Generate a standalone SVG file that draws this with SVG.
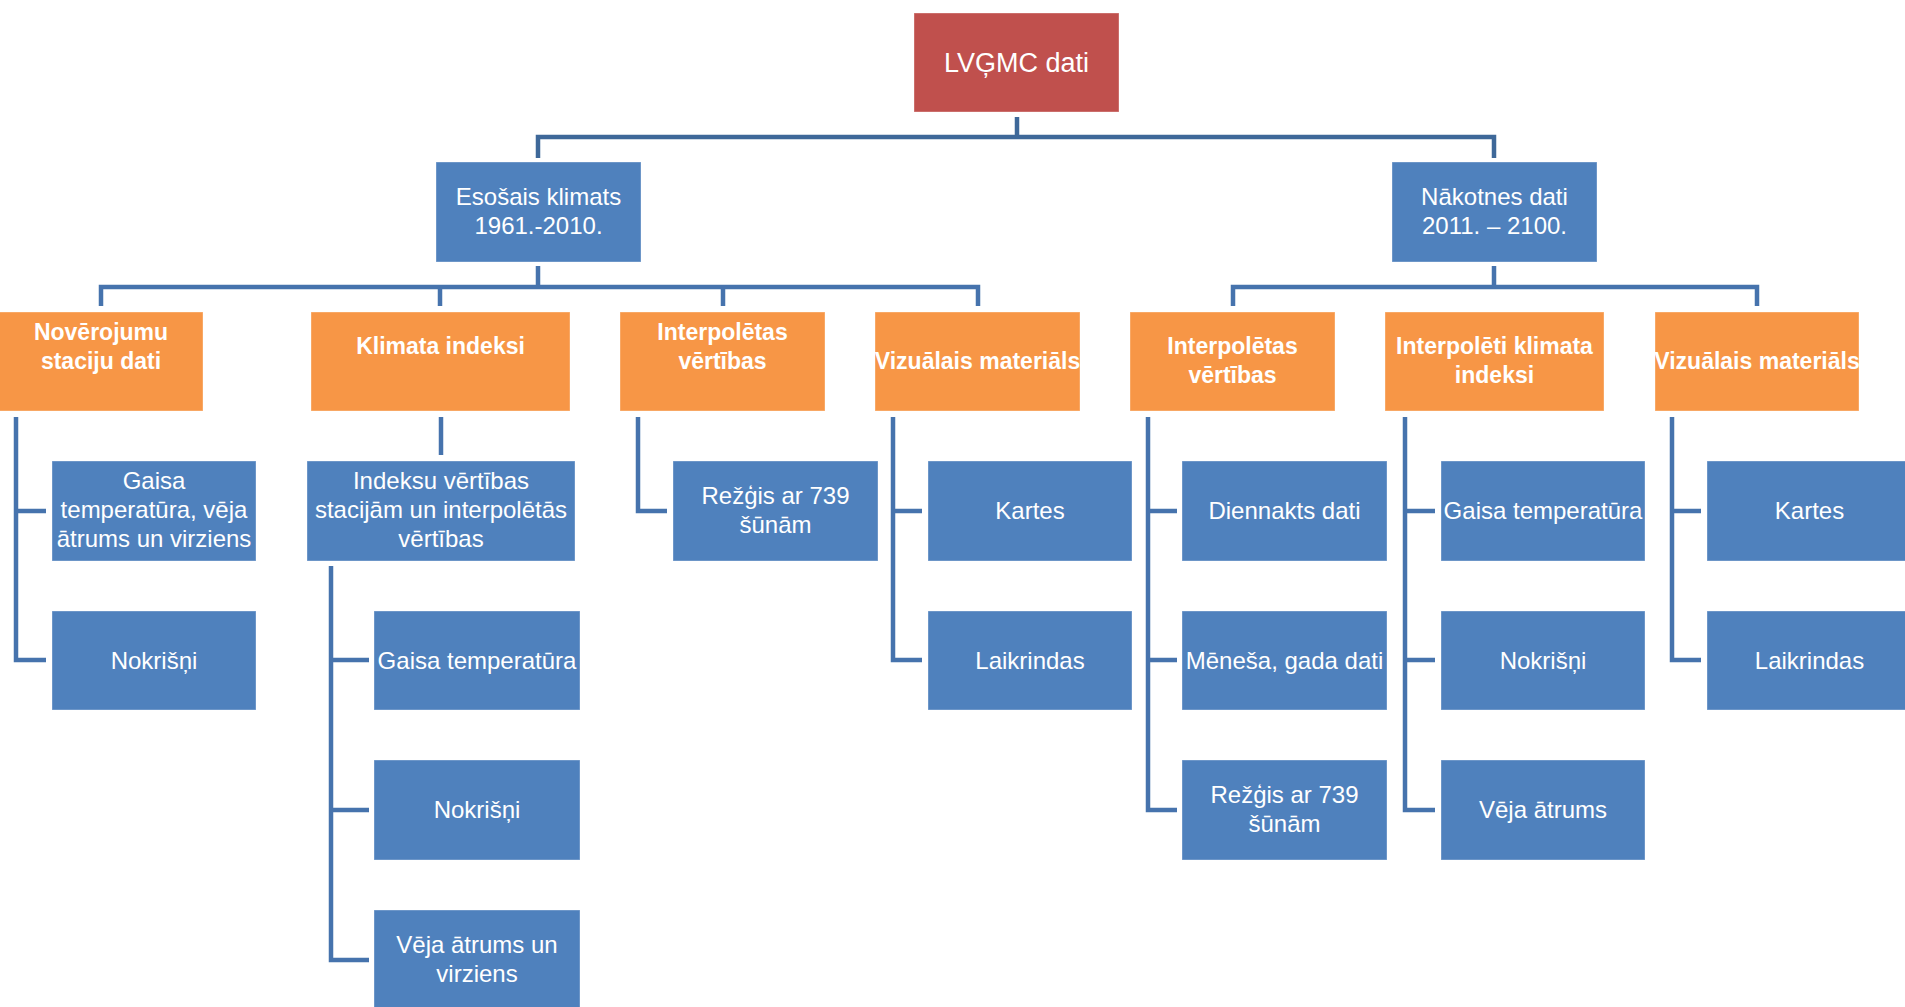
<svg xmlns="http://www.w3.org/2000/svg" width="1905" height="1007" viewBox="0 0 1905 1007">
<style>
.root{fill:#C0504D}
.blue{fill:#4F81BD}
.orange{fill:#F79646}
rect{stroke:#ffffff;stroke-opacity:0.35;stroke-width:1}
text{font-family:"Liberation Sans",Arial,sans-serif;fill:#ffffff;text-anchor:middle}
.t27{font-size:27px}
.t24{font-size:24px}
.b23{font-size:23px;font-weight:bold}
.con{fill:none;stroke:#4673AD;stroke-width:4.5;stroke-linejoin:miter;stroke-linecap:butt}
.top{stroke:#3E6899}
</style>
<rect width="1905" height="1007" fill="#ffffff" stroke="none"/>
<g id="connectors">
<path class="con top" d="M1017,117 V137 M538,158 V137 H1494 V158"/>
<path class="con" d="M538,266 V287 M101,306 V287 H978 V306 M440,306 V287 M723,306 V287"/>
<path class="con" d="M1494,266 V287 M1233,306 V287 H1757 V306"/>
<path class="con" d="M16,417 V660 H46 M16,511 H46"/>
<path class="con" d="M441,417 V455"/>
<path class="con" d="M331,566 V960 H369 M331,660 H369 M331,810 H369"/>
<path class="con" d="M638,417 V511 H667"/>
<path class="con" d="M893,417 V660 H922 M893,511 H922"/>
<path class="con" d="M1148,417 V810 H1177 M1148,511 H1177 M1148,660 H1177"/>
<path class="con" d="M1405,417 V810 H1435 M1405,511 H1435 M1405,660 H1435"/>
<path class="con" d="M1672,417 V660 H1701 M1672,511 H1701"/>
</g>
<g id="n-root"><rect class="root" x="914" y="13" width="205" height="99"/><text class="t27" x="1016.5" y="72">LVĢMC dati</text></g>
<g id="n-esosais"><rect class="blue" x="436" y="162" width="205" height="100"/><text class="t24" x="538.5" y="205">Esošais klimats</text><text class="t24" x="538.5" y="234">1961.-2010.</text></g>
<g id="n-nakotnes"><rect class="blue" x="1392" y="162" width="205" height="100"/><text class="t24" x="1494.5" y="205">Nākotnes dati</text><text class="t24" x="1494.5" y="234">2011. – 2100.</text></g>

<g id="n-noverojumu"><rect class="orange" x="-1" y="312" width="204" height="99"/><text class="b23" x="101" y="340">Novērojumu</text><text class="b23" x="101" y="369">staciju dati</text></g>
<g id="n-klimata"><rect class="orange" x="311" y="312" width="259" height="99"/><text class="b23" x="440.5" y="354">Klimata indeksi</text></g>
<g id="n-interp1"><rect class="orange" x="620" y="312" width="205" height="99"/><text class="b23" x="722.5" y="340">Interpolētas</text><text class="b23" x="722.5" y="369">vērtības</text></g>
<g id="n-viz1"><rect class="orange" x="875" y="312" width="205" height="99"/><text class="b23" x="977.5" y="369">Vizuālais materiāls</text></g>
<g id="n-interp2"><rect class="orange" x="1130" y="312" width="205" height="99"/><text class="b23" x="1232.5" y="354">Interpolētas</text><text class="b23" x="1232.5" y="383">vērtības</text></g>
<g id="n-interpkl"><rect class="orange" x="1385" y="312" width="219" height="99"/><text class="b23" x="1494.5" y="354">Interpolēti klimata</text><text class="b23" x="1494.5" y="383">indeksi</text></g>
<g id="n-viz2"><rect class="orange" x="1655" y="312" width="204" height="99"/><text class="b23" x="1757" y="369">Vizuālais materiāls</text></g>

<g id="n-gaisa1"><rect class="blue" x="52" y="461" width="204" height="100"/><text class="t24" x="154" y="489">Gaisa</text><text class="t24" x="154" y="518">temperatūra, vēja</text><text class="t24" x="154" y="547">ātrums un virziens</text></g>
<g id="n-nokr1"><rect class="blue" x="52" y="611" width="204" height="99"/><text class="t24" x="154" y="669">Nokrišņi</text></g>

<g id="n-indeksu"><rect class="blue" x="307" y="461" width="268" height="100"/><text class="t24" x="441" y="489">Indeksu vērtības</text><text class="t24" x="441" y="518">stacijām un interpolētās</text><text class="t24" x="441" y="547">vērtības</text></g>
<g id="n-gaisa2"><rect class="blue" x="374" y="611" width="206" height="99"/><text class="t24" x="477" y="669">Gaisa temperatūra</text></g>
<g id="n-nokr2"><rect class="blue" x="374" y="760" width="206" height="100"/><text class="t24" x="477" y="818">Nokrišņi</text></g>
<g id="n-veja2"><rect class="blue" x="374" y="910" width="206" height="100"/><text class="t24" x="477" y="953">Vēja ātrums un</text><text class="t24" x="477" y="982">virziens</text></g>

<g id="n-rezgis1"><rect class="blue" x="673" y="461" width="205" height="100"/><text class="t24" x="775.5" y="504">Režģis ar 739</text><text class="t24" x="775.5" y="533">šūnām</text></g>

<g id="n-kartes1"><rect class="blue" x="928" y="461" width="204" height="100"/><text class="t24" x="1030" y="519">Kartes</text></g>
<g id="n-laik1"><rect class="blue" x="928" y="611" width="204" height="99"/><text class="t24" x="1030" y="669">Laikrindas</text></g>

<g id="n-dienn"><rect class="blue" x="1182" y="461" width="205" height="100"/><text class="t24" x="1284.5" y="519">Diennakts dati</text></g>
<g id="n-menesa"><rect class="blue" x="1182" y="611" width="205" height="99"/><text class="t24" x="1284.5" y="669">Mēneša, gada dati</text></g>
<g id="n-rezgis2"><rect class="blue" x="1182" y="760" width="205" height="100"/><text class="t24" x="1284.5" y="803">Režģis ar 739</text><text class="t24" x="1284.5" y="832">šūnām</text></g>

<g id="n-gaisa3"><rect class="blue" x="1441" y="461" width="204" height="100"/><text class="t24" x="1543" y="519">Gaisa temperatūra</text></g>
<g id="n-nokr3"><rect class="blue" x="1441" y="611" width="204" height="99"/><text class="t24" x="1543" y="669">Nokrišņi</text></g>
<g id="n-veja3"><rect class="blue" x="1441" y="760" width="204" height="100"/><text class="t24" x="1543" y="818">Vēja ātrums</text></g>

<g id="n-kartes2"><rect class="blue" x="1707" y="461" width="205" height="100"/><text class="t24" x="1809.5" y="519">Kartes</text></g>
<g id="n-laik2"><rect class="blue" x="1707" y="611" width="205" height="99"/><text class="t24" x="1809.5" y="669">Laikrindas</text></g>
</svg>
